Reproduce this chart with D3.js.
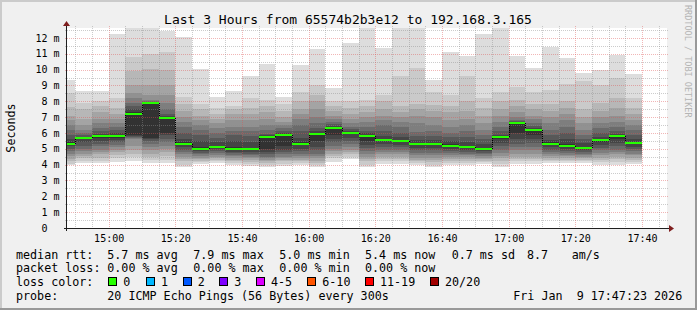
<!DOCTYPE html>
<html>
<head>
<meta charset="utf-8">
<script src="https://cdn.jsdelivr.net/npm/d3@7"></script>
<style>
  html, body { margin: 0; padding: 0; background: #f0f0f0; }
  svg text { font-family: "DejaVu Sans Mono", monospace; white-space: pre; }
</style>
</head>
<body>
<div id="chart"></div>
<script>
// ---- data ----
const title = "Last 3 Hours from 65574b2b3e12 to 192.168.3.165";
const yLabel = "Seconds";

// start of each 5 minute step
const barStarts = ["14:45","14:50","14:55","15:00","15:05","15:10","15:15","15:20","15:25","15:30",
  "15:35","15:40","15:45","15:50","15:55","16:00","16:05","16:10","16:15","16:20","16:25","16:30",
  "16:35","16:40","16:45","16:50","16:55","17:00","17:05","17:10","17:15","17:20","17:25","17:30","17:35"];

// median rtt per step (ms)
const medians = [5.33,5.67,5.79,5.79,7.22,7.92,6.97,5.33,4.99,5.14,4.96,4.96,5.77,5.89,5.33,5.94,6.34,
  6.02,5.83,5.56,5.50,5.31,5.31,5.20,5.14,4.99,5.77,6.65,6.19,5.33,5.20,5.07,5.58,5.83,5.39];

// 20 sorted ping times per step (ms), estimated from the smoke bands
const pings = [
  [3.96,4.06,4.2,4.38,4.55,4.7,4.85,5.0,5.15,5.25,5.4,5.6,5.85,6.2,6.5,6.8,7.1,7.64,8.5,9.33],
  [4.08,4.2,4.4,4.55,4.7,4.85,5.0,5.2,5.4,5.6,5.7,5.75,5.85,6.0,6.17,6.5,6.9,7.5,7.92,8.67],
  [4.08,4.25,4.45,4.65,4.8,4.95,5.15,5.3,5.5,5.7,5.85,5.95,6.1,6.3,6.6,6.9,7.3,7.7,8.0,8.67],
  [4.19,4.4,4.6,4.8,4.95,5.1,5.25,5.4,5.55,5.7,5.85,6.0,6.2,6.4,6.6,6.9,7.2,7.6,8.2,12.25],
  [4.25,4.5,4.7,4.9,5.2,5.6,5.7,5.75,5.8,5.9,7.3,7.5,7.7,7.9,8.2,8.5,9.0,9.9,10.8,13.1],
  [4.1,4.3,4.5,4.7,4.9,5.1,5.3,5.5,5.6,5.7,7.93,7.95,7.98,8.0,8.1,8.4,9.0,10.06,11.0,13.5],
  [4.1,4.3,4.55,4.8,5.0,5.2,5.4,5.6,5.85,6.0,7.0,7.05,7.2,7.5,7.9,8.4,9.0,10.0,11.1,12.46],
  [3.87,4.0,4.2,4.35,4.5,4.65,4.8,4.95,5.1,5.28,5.4,5.6,6.0,6.4,6.7,7.0,7.4,7.8,8.3,12.04],
  [4.04,4.15,4.25,4.35,4.45,4.55,4.65,4.75,4.85,4.95,5.1,5.5,5.9,6.2,6.5,6.8,7.1,7.5,7.85,10.04],
  [4.1,4.2,4.3,4.4,4.5,4.6,4.72,4.85,4.98,5.08,5.2,5.45,5.7,6.0,6.3,6.6,6.9,7.2,7.6,8.29],
  [3.98,4.08,4.2,4.32,4.42,4.52,4.62,4.72,4.82,4.9,5.1,5.5,5.9,6.15,6.4,6.8,7.2,7.5,7.7,8.67],
  [3.93,4.05,4.18,4.3,4.4,4.5,4.6,4.7,4.8,4.9,5.05,5.45,5.8,6.1,6.4,6.8,7.2,7.6,8.2,9.6],
  [3.87,3.98,4.1,4.2,4.3,4.4,4.5,4.65,4.8,5.0,5.8,5.85,5.95,6.2,6.5,6.9,7.3,7.7,8.1,10.36],
  [3.93,4.05,4.2,4.3,4.4,4.5,4.65,4.8,4.95,5.2,5.92,6.0,6.1,6.3,6.5,6.7,7.0,7.4,7.8,8.29],
  [3.98,4.1,4.2,4.3,4.42,4.55,4.7,4.85,5.0,5.25,5.45,5.7,6.1,6.5,6.9,7.2,7.5,8.0,8.6,10.3],
  [3.87,4.0,4.12,4.25,4.4,4.55,4.7,4.9,5.1,5.5,6.0,6.1,6.3,6.6,7.0,7.5,8.0,8.4,9.0,11.3],
  [4.19,4.4,4.55,4.7,4.85,5.0,5.2,5.4,5.6,5.9,6.38,6.45,6.55,6.7,6.9,7.1,7.4,7.7,8.0,8.84],
  [4.34,4.5,4.65,4.8,4.95,5.1,5.3,5.5,5.7,5.95,6.05,6.12,6.25,6.4,6.6,6.9,7.2,7.6,8.0,11.7],
  [3.83,4.0,4.2,4.35,4.5,4.65,4.85,5.05,5.25,5.5,5.88,5.98,6.15,6.4,6.7,7.0,7.3,7.7,8.1,13.0],
  [4.04,4.2,4.35,4.5,4.65,4.8,4.95,5.1,5.3,5.5,5.6,5.8,6.1,6.5,6.8,7.1,7.5,8.0,8.4,11.37],
  [4.04,4.2,4.35,4.5,4.65,4.8,4.95,5.1,5.25,5.42,5.55,5.75,6.0,6.4,6.7,7.0,7.3,7.7,9.6,12.9],
  [3.98,4.1,4.2,4.32,4.45,4.6,4.75,4.9,5.05,5.25,5.38,5.55,5.8,6.05,6.6,7.1,7.5,7.85,10.1,13.2],
  [3.87,4.0,4.15,4.3,4.45,4.6,4.75,4.9,5.05,5.22,5.38,5.55,5.8,6.1,6.5,7.0,7.4,7.75,8.6,9.35],
  [3.98,4.1,4.22,4.35,4.48,4.6,4.72,4.85,4.98,5.12,5.3,5.5,5.75,6.0,6.4,6.8,7.3,7.7,8.4,11.12],
  [3.98,4.1,4.22,4.34,4.46,4.58,4.7,4.82,4.95,5.08,5.2,5.45,5.75,6.1,6.5,6.9,7.4,8.0,9.6,10.87],
  [4.04,4.15,4.25,4.35,4.45,4.55,4.65,4.75,4.85,4.95,5.05,5.3,5.6,5.9,6.2,6.6,7.1,7.6,8.2,12.25],
  [3.87,4.05,4.2,4.4,4.55,4.75,4.95,5.15,5.35,5.6,5.8,5.9,6.1,6.4,6.7,7.1,7.5,8.0,8.6,13.0],
  [4.04,4.2,4.35,4.5,4.7,4.9,5.1,5.3,5.6,6.0,6.68,6.7,6.75,6.85,7.0,7.3,7.7,8.1,8.9,10.87],
  [4.04,4.2,4.35,4.5,4.7,4.9,5.1,5.35,5.6,5.9,6.22,6.3,6.45,6.6,6.9,7.1,7.5,7.85,8.6,10.09],
  [4.08,4.2,4.3,4.42,4.55,4.68,4.8,4.95,5.1,5.25,5.4,5.55,5.85,6.2,6.6,7.0,7.4,7.85,8.7,11.43],
  [4.08,4.2,4.3,4.4,4.52,4.64,4.76,4.88,5.0,5.12,5.3,5.6,6.0,6.4,6.8,7.2,7.6,8.0,9.1,10.74],
  [4.08,4.2,4.3,4.4,4.5,4.6,4.7,4.8,4.9,5.0,5.12,5.35,5.6,5.9,6.2,6.6,7.0,7.5,9.3,9.79],
  [4.0,4.15,4.3,4.45,4.6,4.75,4.9,5.05,5.25,5.45,5.62,5.75,6.0,6.3,6.6,7.0,7.4,7.9,9.0,10.0],
  [4.0,4.18,4.35,4.5,4.65,4.8,4.95,5.15,5.35,5.6,5.87,5.95,6.15,6.4,6.7,7.1,7.6,8.2,9.5,10.95],
  [4.04,4.18,4.32,4.45,4.58,4.7,4.84,4.98,5.12,5.3,5.45,5.6,5.9,6.2,6.5,6.8,7.2,7.6,8.2,9.73]
];

const yTicks = [0,1,2,3,4,5,6,7,8,9,10,11,12];
const yMax = 12.63;
const timeStart = "14:47:30";
const timeEnd = "17:47:30";

const rttRow = ["median rtt:", "5.7 ms avg", "7.9 ms max", "5.0 ms min", "5.4 ms now", "0.7 ms sd", "8.7", "am/s"];
const lossRow = ["packet loss:", "0.00 % avg", "0.00 % max", "0.00 % min", "0.00 % now"];
const lossLabels = ["0", "1", "2", "3", "4-5", "6-10", "11-19", "20/20"];
const lossColors = ["#26ff00", "#00b8ff", "#0059ff", "#7e00ff", "#dd00ff", "#ff5500", "#ff0000", "#a10000"];
const probeText = "20 ICMP Echo Pings (56 Bytes) every 300s";
const stampText = "Fri Jan  9 17:47:23 2026";

// ---- layout ----
const W = 697, H = 310;
const plot = { left: 67, right: 667, top: 28, bottom: 228 };

const parseT = d3.timeParse("%Y-%m-%d %H:%M:%S");
const t = s => parseT("2026-01-09 " + (s.length === 5 ? s + ":00" : s));

const x = d3.scaleTime()
  .domain([t(timeStart), t(timeEnd)])
  .range([plot.left, plot.right]);

const y = d3.scaleLinear()
  .domain([0, yMax])
  .range([plot.bottom, plot.top]);

const svg = d3.select("#chart")
  .append("svg")
    .attr("width", W)
    .attr("height", H)
    .style("display", "block");

// background + 3d frame
svg.append("rect").attr("width", W).attr("height", H).attr("fill", "#f0f0f0");
svg.append("rect").attr("x", 0).attr("y", 0).attr("width", W).attr("height", 2).attr("fill", "#cbcbcb");
svg.append("rect").attr("x", 0).attr("y", 0).attr("width", 2).attr("height", H).attr("fill", "#cbcbcb");
svg.append("rect").attr("x", 0).attr("y", H - 2).attr("width", W).attr("height", 2).attr("fill", "#999999");
svg.append("rect").attr("x", W - 2).attr("y", 0).attr("width", 2).attr("height", H).attr("fill", "#999999");

// canvas
svg.append("rect")
  .attr("x", plot.left).attr("y", plot.top)
  .attr("width", plot.right - plot.left).attr("height", plot.bottom - plot.top)
  .attr("fill", "#ffffff");

svg.append("clipPath").attr("id", "clip")
  .append("rect")
    .attr("x", plot.left).attr("y", plot.top)
    .attr("width", plot.right - plot.left).attr("height", plot.bottom - plot.top);

// smoke: layer i spans ping i .. ping (21-i), outer light to inner dark
const half = 10;
const grey = i => {
  const v = Math.floor(190 / half * (half - 1 - i)) + 50;
  return d3.rgb(v, v, v).toString();
};

const bars = barStarts.map((s, k) => ({ start: t(s), end: d3.timeMinute.offset(t(s), 5), p: pings[k], med: medians[k] }));

const smoke = svg.append("g").attr("clip-path", "url(#clip)").attr("shape-rendering", "crispEdges");
smoke.selectAll("g")
  .data(bars)
  .enter()
  .append("g")
  .selectAll("rect")
  .data(d => d3.range(half).map(i => ({ x0: x(d.start), x1: x(d.end), lo: d.p[i], hi: d.p[19 - i], i })))
  .enter()
  .append("rect")
    .attr("x", d => Math.round(d.x0))
    .attr("width", d => Math.round(d.x1) - Math.round(d.x0))
    .attr("y", d => Math.round(y(d.hi)))
    .attr("height", d => Math.max(1, Math.round(y(d.lo)) - Math.round(y(d.hi))))
    .attr("fill", d => grey(d.i));

// grid on top of the smoke
const minorCol = "rgba(143,143,143,0.45)";
const majorCol = "rgba(222,80,80,0.42)";
const grid = svg.append("g");
const hVals = d3.range(1, 26).map(i => i / 2);
grid.selectAll("line.h")
  .data(hVals)
  .enter()
  .append("line")
    .attr("x1", plot.left - 2).attr("x2", plot.right + 2)
    .attr("y1", d => Math.round(y(d)) + 0.5)
    .attr("y2", d => Math.round(y(d)) + 0.5)
    .attr("stroke", d => Number.isInteger(d) ? majorCol : minorCol)
    .attr("stroke-dasharray", "1,1");

const vVals = d3.timeMinute.every(5).range(t(timeStart), t(timeEnd));
grid.selectAll("line.v")
  .data(vVals)
  .enter()
  .append("line")
    .attr("y1", plot.top - 2).attr("y2", plot.bottom + 2)
    .attr("x1", d => Math.round(x(d)) + 0.5)
    .attr("x2", d => Math.round(x(d)) + 0.5)
    .attr("stroke", d => d.getMinutes() % 20 === 0 ? majorCol : minorCol)
    .attr("stroke-dasharray", "1,1");

// median: dotted dark steps + green bars (loss 0)
const medG = svg.append("g").attr("clip-path", "url(#clip)").attr("shape-rendering", "crispEdges");
medG.selectAll("line")
  .data(bars.slice(1))
  .enter()
  .append("line")
    .attr("x1", d => Math.round(x(d.start)) + 0.5)
    .attr("x2", d => Math.round(x(d.start)) + 0.5)
    .attr("y1", (d, k) => Math.round(y(bars[k].med)))
    .attr("y2", d => Math.round(y(d.med)))
    .attr("stroke", "#000")
    .attr("stroke-dasharray", "1,1");

medG.selectAll("rect")
  .data(bars)
  .enter()
  .append("rect")
    .attr("x", d => Math.round(x(d.start)))
    .attr("width", d => Math.round(x(d.end)) - Math.round(x(d.start)))
    .attr("y", d => Math.round(y(d.med)) - 1)
    .attr("height", 2)
    .attr("fill", lossColors[0]);

// axes
svg.append("line")
  .attr("x1", plot.left - 3).attr("x2", plot.right + 3)
  .attr("y1", plot.bottom + 0.5).attr("y2", plot.bottom + 0.5)
  .attr("stroke", "#1f1f1f");
svg.append("line")
  .attr("x1", plot.left - 0.5).attr("x2", plot.left - 0.5)
  .attr("y1", plot.bottom + 3).attr("y2", plot.top - 3)
  .attr("stroke", "#1f1f1f");
svg.append("path")
  .attr("d", `M${plot.right + 2},${plot.bottom - 3} L${plot.right + 7},${plot.bottom + 0.5} L${plot.right + 2},${plot.bottom + 4} Z`)
  .attr("fill", "#7f1f1f");
svg.append("path")
  .attr("d", `M${plot.left - 4},${plot.top - 2} L${plot.left - 0.5},${plot.top - 7} L${plot.left + 3},${plot.top - 2} Z`)
  .attr("fill", "#7f1f1f");

// tick labels
svg.selectAll("text.ytick")
  .data(yTicks)
  .enter()
  .append("text")
    .attr("x", 59.5)
    .attr("y", d => y(d) + 3.6)
    .attr("text-anchor", "end")
    .style("font-size", "10px")
    .text(d => d === 0 ? "0  " : d + " m");

svg.selectAll("text.xtick")
  .data(vVals.filter(d => d.getMinutes() % 20 === 0))
  .enter()
  .append("text")
    .attr("x", d => x(d) + 0.5)
    .attr("y", 241.5)
    .attr("text-anchor", "middle")
    .style("font-size", "10px")
    .text(d3.timeFormat("%H:%M"));

// title and axis label
svg.append("text")
  .attr("x", 348).attr("y", 23.5)
  .attr("text-anchor", "middle")
  .style("font-size", "13px")
  .text(title);

svg.append("text")
  .attr("transform", "translate(15,128) rotate(-90)")
  .attr("text-anchor", "middle")
  .style("font-size", "11.7px")
  .text(yLabel);

svg.append("text")
  .attr("transform", "translate(685,5) rotate(90)")
  .style("font-size", "8.5px")
  .attr("fill", "#b4b4b4")
  .text("RRDTOOL / TOBI OETIKER");

// legend
const legendX = [16, 107.3, 193.3, 279.3, 365, 451.7, 527, 571.7];
const rowY = [259, 272, 286, 300];

const legend = svg.append("g").style("font-size", "11.7px");
legend.selectAll("text.rtt")
  .data(rttRow)
  .enter()
  .append("text")
    .attr("x", (d, i) => legendX[i])
    .attr("y", rowY[0])
    .text(d => d);

legend.selectAll("text.loss")
  .data(lossRow)
  .enter()
  .append("text")
    .attr("x", (d, i) => legendX[i])
    .attr("y", rowY[1])
    .text(d => d);

legend.append("text").attr("x", 16).attr("y", rowY[2]).text("loss color:");
const swatchX = [108.3, 146, 182.7, 219.3, 256, 307.3, 365, 430];
const sw = legend.selectAll("g.sw")
  .data(lossLabels)
  .enter()
  .append("g");
sw.append("rect")
  .attr("x", (d, i) => Math.round(swatchX[i]) + 0.5)
  .attr("y", rowY[2] - 8.5)
  .attr("width", 8).attr("height", 8)
  .attr("fill", (d, i) => lossColors[i])
  .attr("stroke", "#000");
sw.append("text")
  .attr("x", (d, i) => swatchX[i] + 15)
  .attr("y", rowY[2])
  .text(d => d);

legend.append("text").attr("x", 16).attr("y", rowY[3]).text("probe:");
legend.append("text").attr("x", 107.3).attr("y", rowY[3]).text(probeText);
legend.append("text").attr("x", 513.3).attr("y", rowY[3]).text(stampText);
</script>
</body>
</html>
